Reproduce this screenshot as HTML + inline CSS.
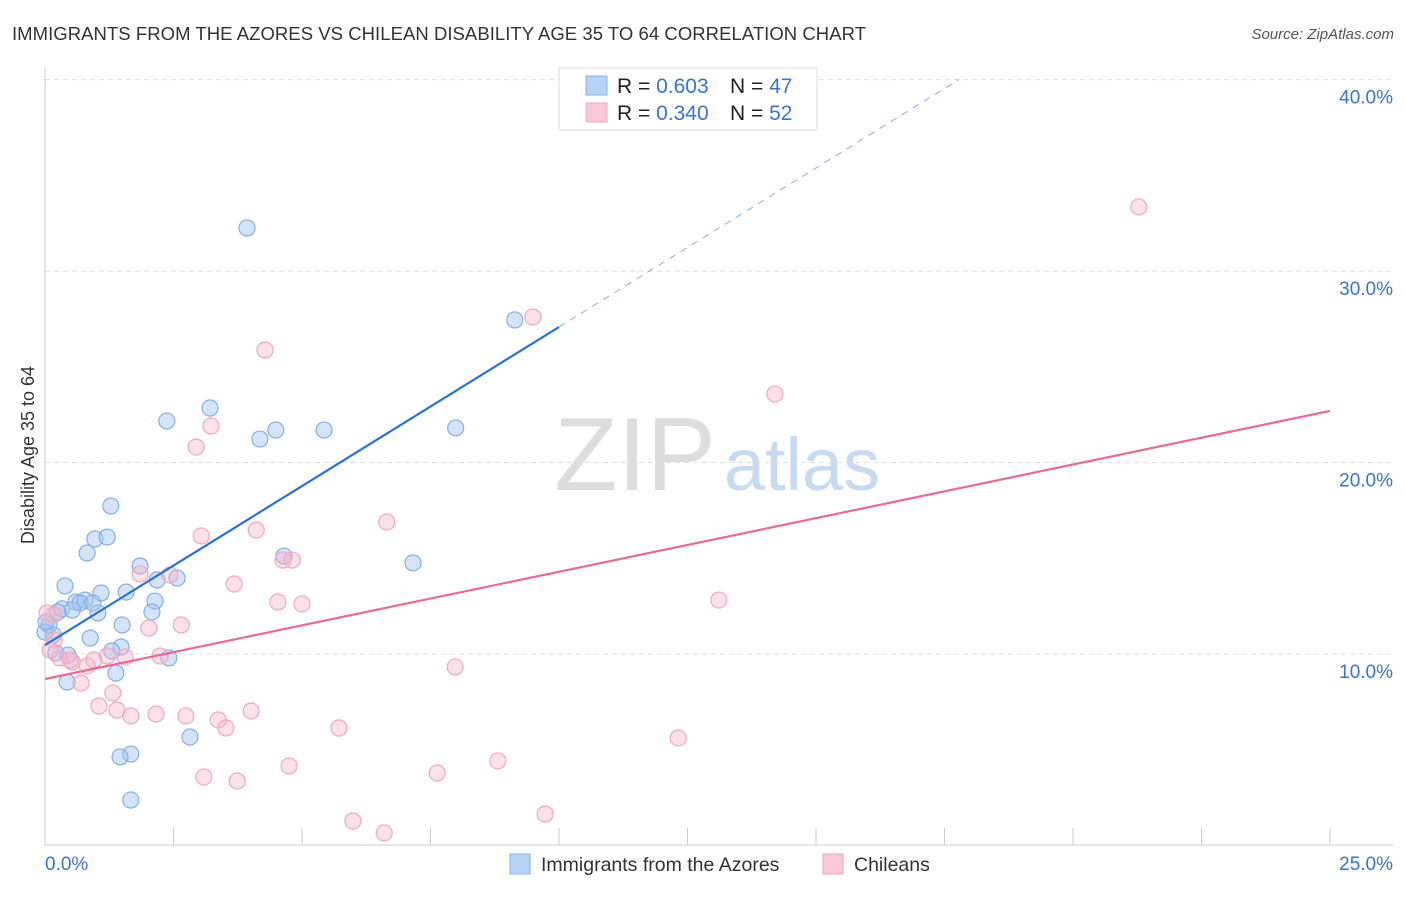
<!DOCTYPE html>
<html><head><meta charset="utf-8"><style>
body{margin:0;background:#fff;font-family:"Liberation Sans",sans-serif}
svg text{font-family:"Liberation Sans",sans-serif}
</style></head><body>
<svg id="c" width="1406" height="892">
<text x="12" y="40" font-size="18.5" fill="#333" textLength="854">IMMIGRANTS FROM THE AZORES VS CHILEAN DISABILITY AGE 35 TO 64 CORRELATION CHART</text>
<text x="1394" y="39" font-size="15" fill="#555" font-style="italic" text-anchor="end">Source: ZipAtlas.com</text>
<g>
<text x="635" y="490" font-size="104" fill="#ddd" font-family="Liberation Serif" text-anchor="middle">ZIP</text>
<text x="802" y="490" font-size="74" fill="#c8daf2" text-anchor="middle">atlas</text>
</g>
<text transform="translate(34,455) rotate(-90)" font-size="18" fill="#333" text-anchor="middle">Disability Age 35 to 64</text>
<g id="grid"></g><g id="marks"></g>
<g>
<rect x="559" y="68" width="258" height="62" fill="#fff" stroke="#ddd"/>
<rect x="586" y="76" width="21" height="19" fill="#b8d2f6" stroke="#8ab0e6"/>
<rect x="586" y="103" width="21" height="19" fill="#f9c8d6" stroke="#f0a8bd"/>
<text x="617" y="93" font-size="21" fill="#222">R = <tspan fill="#3a74d0">0.603</tspan><tspan x="730">N = </tspan><tspan fill="#3a74d0">47</tspan></text>
<text x="617" y="120" font-size="21" fill="#222">R = <tspan fill="#3a74d0">0.340</tspan><tspan x="730">N = </tspan><tspan fill="#3a74d0">52</tspan></text>
</g>
<g>
<rect x="510" y="854" width="20" height="20" fill="#b8d2f6" stroke="#8ab0e6"/>
<text x="541" y="871" font-size="19.5" fill="#333">Immigrants from the Azores</text>
<rect x="823" y="854" width="20" height="20" fill="#f9c8d6" stroke="#f0a8bd"/>
<text x="854" y="871" font-size="19.5" fill="#333">Chileans</text>
</g>
</svg>
<script>
const yTicks=[10,20,30,40];
const yTickLabels=["10.0%","20.0%","30.0%","40.0%"];
const xTickLabels=["0.0%","25.0%"];
const blueX=[3.93,9.14,2.37,3.21,4.18,4.49,5.43,7.99,1.28,0.97,1.21,0.82,4.65,7.16,1.85,2.18,2.57,0.39,1.09,1.58,0.60,0.78,0.68,0.93,0.33,0.53,1.03,2.14,2.08,0.08,1.50,0.88,0.16,0,1.48,1.30,0.21,0.45,2.41,1.38,0.43,2.82,1.67,1.46,1.67,0.25,0.02];
const blueY=[32.25,27.45,22.17,22.85,21.23,21.70,21.70,21.81,17.73,16.01,16.11,15.28,15.12,14.76,14.60,13.87,13.97,13.56,13.19,13.24,12.72,12.82,12.67,12.67,12.36,12.30,12.15,12.77,12.20,11.52,11.52,10.84,11.00,11.15,10.37,10.16,10.06,9.95,9.80,9.01,8.54,5.67,4.78,4.63,2.38,12.20,11.68];
const pinkX=[21.28,9.49,4.28,14.20,3.23,2.94,6.65,4.11,3.04,4.63,4.81,1.85,2.43,3.68,4.53,5.00,13.11,0.16,2.65,2.02,0.18,0.04,2.24,1.21,1.56,0.95,0.29,0.53,0.82,7.98,0.70,1.32,1.05,1.40,1.67,2.16,2.74,3.37,3.52,4.01,5.72,12.32,8.81,4.75,7.63,3.09,3.74,9.73,5.99,6.60,0.49,0.10];
const pinkY=[33.35,27.60,25.88,23.58,21.91,20.81,16.90,16.48,16.17,14.91,14.91,14.18,14.13,13.66,12.72,12.62,12.82,12.04,11.52,11.36,10.74,12.15,9.90,9.90,9.85,9.69,9.80,9.59,9.38,9.33,8.49,7.97,7.29,7.08,6.77,6.87,6.77,6.56,6.14,7.03,6.14,5.62,4.42,4.16,3.79,3.58,3.37,1.65,1.28,0.66,9.69,10.21];
const blueLine=[10.47,27.08];
const pinkLine=[8.7,22.7];
const X=v=>45+v*51.4, Y=v=>845.6-v*19.15;
const NS="http://www.w3.org/2000/svg";
const mk=(p,t,a)=>{const e=document.createElementNS(NS,t);for(const k in a)e.setAttribute(k,a[k]);p.appendChild(e);return e;};
const g=document.getElementById('grid'), m=document.getElementById('marks');
yTicks.forEach((t,i)=>{
 const l=mk(g,'line',{x1:45,x2:1393,y1:Y(t),y2:Y(t),stroke:'#ddd','stroke-dasharray':'5,4'});
 
 
 const tx=mk(g,'text',{x:1393,y:Y(t)+24,'font-size':19,fill:'#3a74d0','text-anchor':'end'});
 tx.textContent=yTickLabels[i];
 
 
});
mk(g,'line',{x1:45,x2:45,y1:68,y2:845,stroke:'#ccc'});
mk(g,'line',{x1:45,x2:1393,y1:845,y2:845,stroke:'#ccc'});
for(let i=0;i<=10;i++){const t=mk(g,'line',{x1:X(i*2.5),x2:X(i*2.5),y1:828,y2:845,stroke:'#ccc'});
 
 }
[[0,'start',45],[25,'end',1393]].forEach((d,i)=>{const tx=mk(g,'text',{x:d[2],y:870,'font-size':19,fill:'#3a74d0','text-anchor':d[1]});tx.textContent=xTickLabels[i];
 
 });
function pts(xs,ys,fill,stroke,name){xs.forEach((x,i)=>{const c=mk(m,'circle',{cx:X(x),cy:Y(ys[i]),r:8,fill:fill,stroke:stroke,'stroke-width':1.2});
 
 });}
pts(blueX,blueY,'rgba(160,195,240,0.45)','#86aee4','azores-point');
pts(pinkX,pinkY,'rgba(248,180,200,0.4)','#f0a8bd','chilean-point');
const slope=(blueLine[1]-blueLine[0])/10;
const l1=mk(m,'line',{x1:X(0),y1:Y(blueLine[0]),x2:X(10),y2:Y(blueLine[1]),stroke:'#2a72d8','stroke-width':2.2});


const xe=(40-blueLine[0])/slope;
const l2=mk(m,'line',{x1:X(10),y1:Y(blueLine[1]),x2:X(xe),y2:Y(40),stroke:'#8ab0e6','stroke-width':1,'stroke-dasharray':'7,6'});


const l3=mk(m,'line',{x1:X(0),y1:Y(pinkLine[0]),x2:X(25),y2:Y(pinkLine[1]),stroke:'#e8699a','stroke-width':2.2});


</script>
</body></html>
